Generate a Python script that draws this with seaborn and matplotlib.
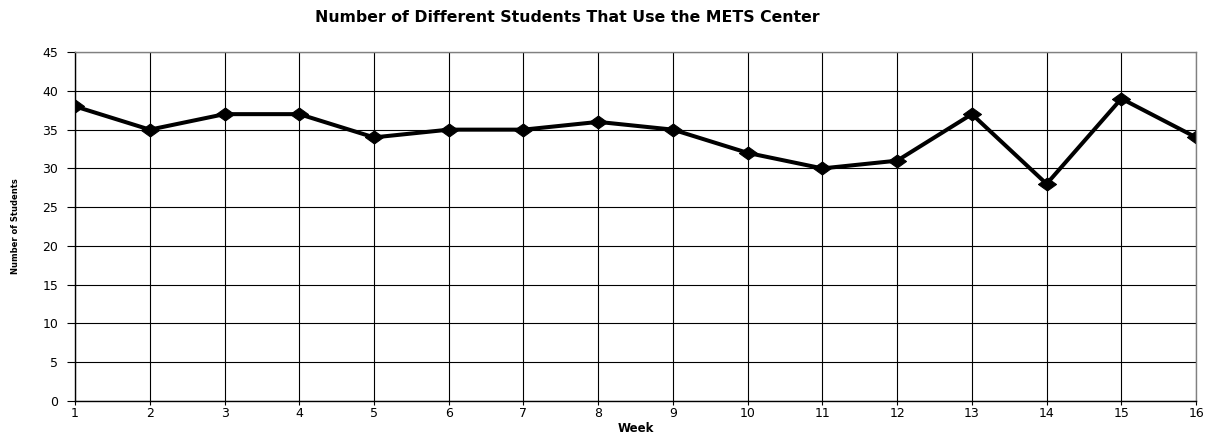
import pandas as pd
import matplotlib
matplotlib.use("Agg")
import matplotlib.pyplot as plt
import seaborn as sns

# data
weeks = list(range(1, 17))
students = [38, 35, 37, 37, 34, 35, 35, 36, 35, 32, 30, 31, 37, 28, 39, 34]

df = pd.DataFrame({"Week": weeks, "Students": students})

sns.set_style("white")
plt.rcParams["font.family"] = ["DejaVu Sans"]
plt.rcParams["text.color"] = "black"
plt.rcParams["axes.labelcolor"] = "black"
plt.rcParams["xtick.color"] = "black"
plt.rcParams["ytick.color"] = "black"

fig = plt.figure(figsize=(12.11, 4.38), dpi=100)
ax = fig.add_axes([0.062, 0.0845, 0.9257, 0.7965])

# wide, flat diamond like the original chart
diamond = [(-1, 0), (0, 0.72), (1, 0), (0, -0.72), (-1, 0)]
sns.lineplot(data=df, x="Week", y="Students", ax=ax, color="black",
             linewidth=2.9, marker=diamond, markersize=13,
             markeredgecolor="black", markerfacecolor="black")

ax.set_xlim(1, 16)
ax.set_ylim(0, 45)
ax.set_xticks(weeks)
ax.set_yticks(range(0, 46, 5))
ax.grid(True, color="black", linewidth=0.8)
ax.set_axisbelow(True)

for side in ["top", "right"]:
    ax.spines[side].set_color("#808080")
    ax.spines[side].set_linewidth(1)
for side in ["left", "bottom"]:
    ax.spines[side].set_color("black")
    ax.spines[side].set_linewidth(1)

ax.tick_params(axis="both", which="both", labelsize=9, width=0.8,
               color="black", direction="out", left=True, bottom=True)
ax.tick_params(axis="y", length=6, pad=6)
ax.tick_params(axis="x", length=3, pad=1)

ax.set_xlabel("Week", fontsize=8.5, fontweight="bold", labelpad=2)
ax.set_ylabel("Number of Students", fontsize=6, fontweight="bold", labelpad=16)
fig.text(567 / 1211, 1 - 17 / 438,
         "Number of Different Students That Use the METS Center",
         fontsize=11.3, fontweight="bold", ha="center", va="center")

fig.savefig("out.png", dpi=100)
